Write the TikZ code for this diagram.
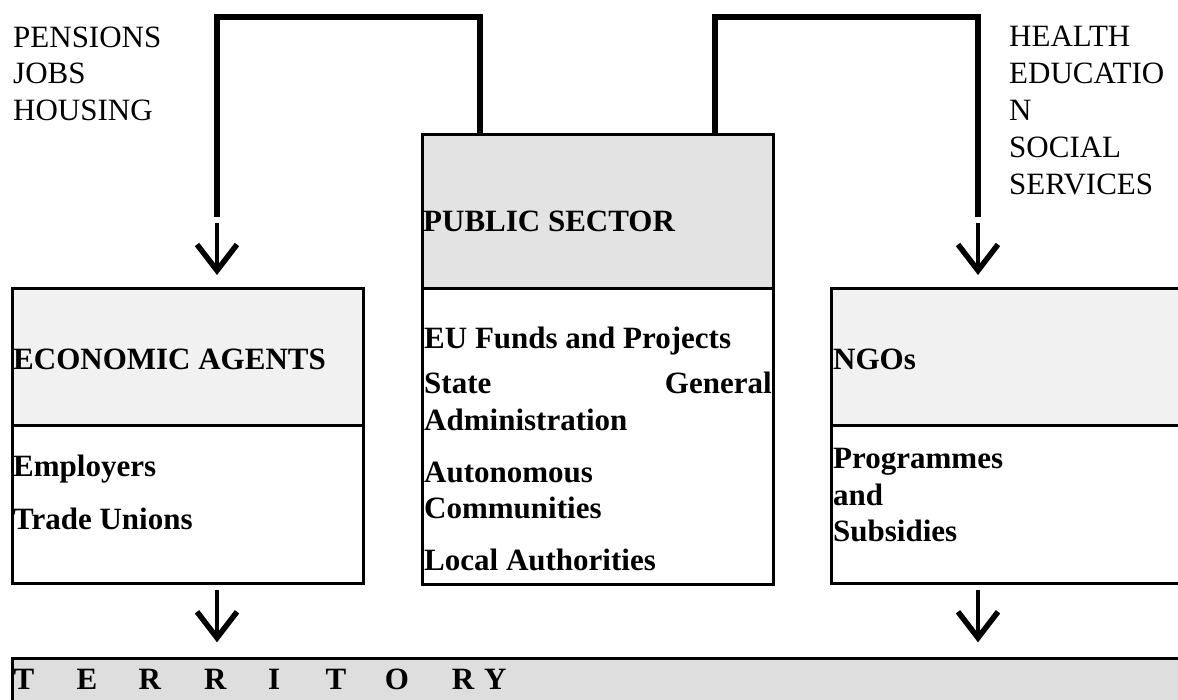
\documentclass[tikz,border=0pt]{standalone}
\usepackage{fontspec}
\setmainfont{Liberation Serif}
\usepackage{tikz}
\usetikzlibrary{arrows.meta}

\definecolor{pubgray}{HTML}{E3E3E3}
\definecolor{agtgray}{HTML}{F1F1F1}
\definecolor{tergray}{HTML}{DEDEDE}

\begin{document}
\begin{tikzpicture}[line join=miter,x=1pt,y=-1pt,
  panel/.style={draw,line width=3pt,anchor=north west,inner sep=0pt,outer sep=0pt},
  link/.style={line width=5.5pt},
  down/.style={line width=4pt,-{Straight Barb[length=26pt,width=40pt,line width=5.5pt]}},
  txt/.style={anchor=base west,inner sep=0pt,font=\fontsize{31}{37}\selectfont},
  hd/.style={txt,font=\fontsize{31}{37}\selectfont\bfseries}]
\useasboundingbox (0,0) rectangle (1178,700);
\clip (0,0) rectangle (1178,700);

% boxes
\node[panel,fill=pubgray,minimum width=351.7pt,minimum height=153.5pt] (pubhead) at (422,135) {};
\node[panel,minimum width=351.7pt,minimum height=295.5pt] (pubbody) at (422,288.5) {};
\node[panel,fill=agtgray,minimum width=351.1pt,minimum height=136pt] (econhead) at (12.2,289) {};
\node[panel,minimum width=351.1pt,minimum height=158.3pt] (econbody) at (12.2,425) {};
\node[panel,fill=agtgray,minimum width=400pt,minimum height=136pt] (ngohead) at (831,289) {};
\node[panel,minimum width=400pt,minimum height=158.3pt] (ngobody) at (831,425) {};
\node[panel,fill=tergray,minimum width=1200pt,minimum height=80pt] (terr) at (12.2,658.3) {};

% links out of the public sector
\coordinate (lfree) at (217,217);
\coordinate (rfree) at (978,217);
\draw[link] (pubhead.north west) ++(58,0) |- (217,17) -- (lfree);
\draw[link] (pubhead.north west) ++(293,0) |- (978,17) -- (rfree);

% arrows
\coordinate (a1) at (217,223);
\coordinate (a2) at (978,223);
\coordinate (a3) at (217,590);
\coordinate (a4) at (978,590);
\draw[down,shorten >=14pt] (a1) -- (a1 |- econhead.north);
\draw[down,shorten >=14pt] (a2) -- (a2 |- ngohead.north);
\draw[down,shorten >=16pt] (a3) -- (a3 |- terr.north);
\draw[down,shorten >=16pt] (a4) -- (a4 |- terr.north);

% side labels
\node[txt] (pen) at (13,47.7) {PENSIONS};
\node[txt] (job) at (13,83.3) {JOBS};
\node[txt] (hou) at (13,121) {HOUSING};
\node[txt] (hea) at (1009,46.7) {HEALTH};
\node[txt] (edu) at (1009,83.3) {EDUCATIO};
\node[txt] (edn) at (1009,120.7) {N};
\node[txt] (soc) at (1009,157.7) {SOCIAL};
\node[txt] (ser) at (1009,195) {SERVICES};

% headings
\node[hd] (pubtitle) at (423,231.7) {PUBLIC SECTOR};
\node[hd] (econtitle) at (13,370) {ECONOMIC AGENTS};
\node[hd] (ngotitle) at (833,370) {NGOs};

% box contents
\node[hd] (emp) at (13,476.7) {Employers};
\node[hd] (uni) at (13,529.3) {Trade Unions};
\node[hd] (euf) at (424,348.3) {EU Funds and Projects};
\node[hd] (sga) at (424,393.3) {\makebox[347.5pt][s]{State\hfill General}};
\node[hd] (adm) at (424,430.7) {Administration};
\node[hd] (aut) at (424,482.7) {Autonomous};
\node[hd] (com) at (424,518.3) {Communities};
\node[hd] (loc) at (424,570) {Local Authorities};
\node[hd] (pro) at (833,468.3) {Programmes};
\node[hd] (and) at (833,505) {and};
\node[hd] (sub) at (833,541.7) {Subsidies};

\foreach \x/\l [count=\i] in {13.4/T,76.5/E,138.5/R,204/R,268/I,325.3/T,384.6/O,451.6/R,484/Y}
  \node[hd] (ter\i) at (\x,689) {\l};
\end{tikzpicture}
\end{document}
